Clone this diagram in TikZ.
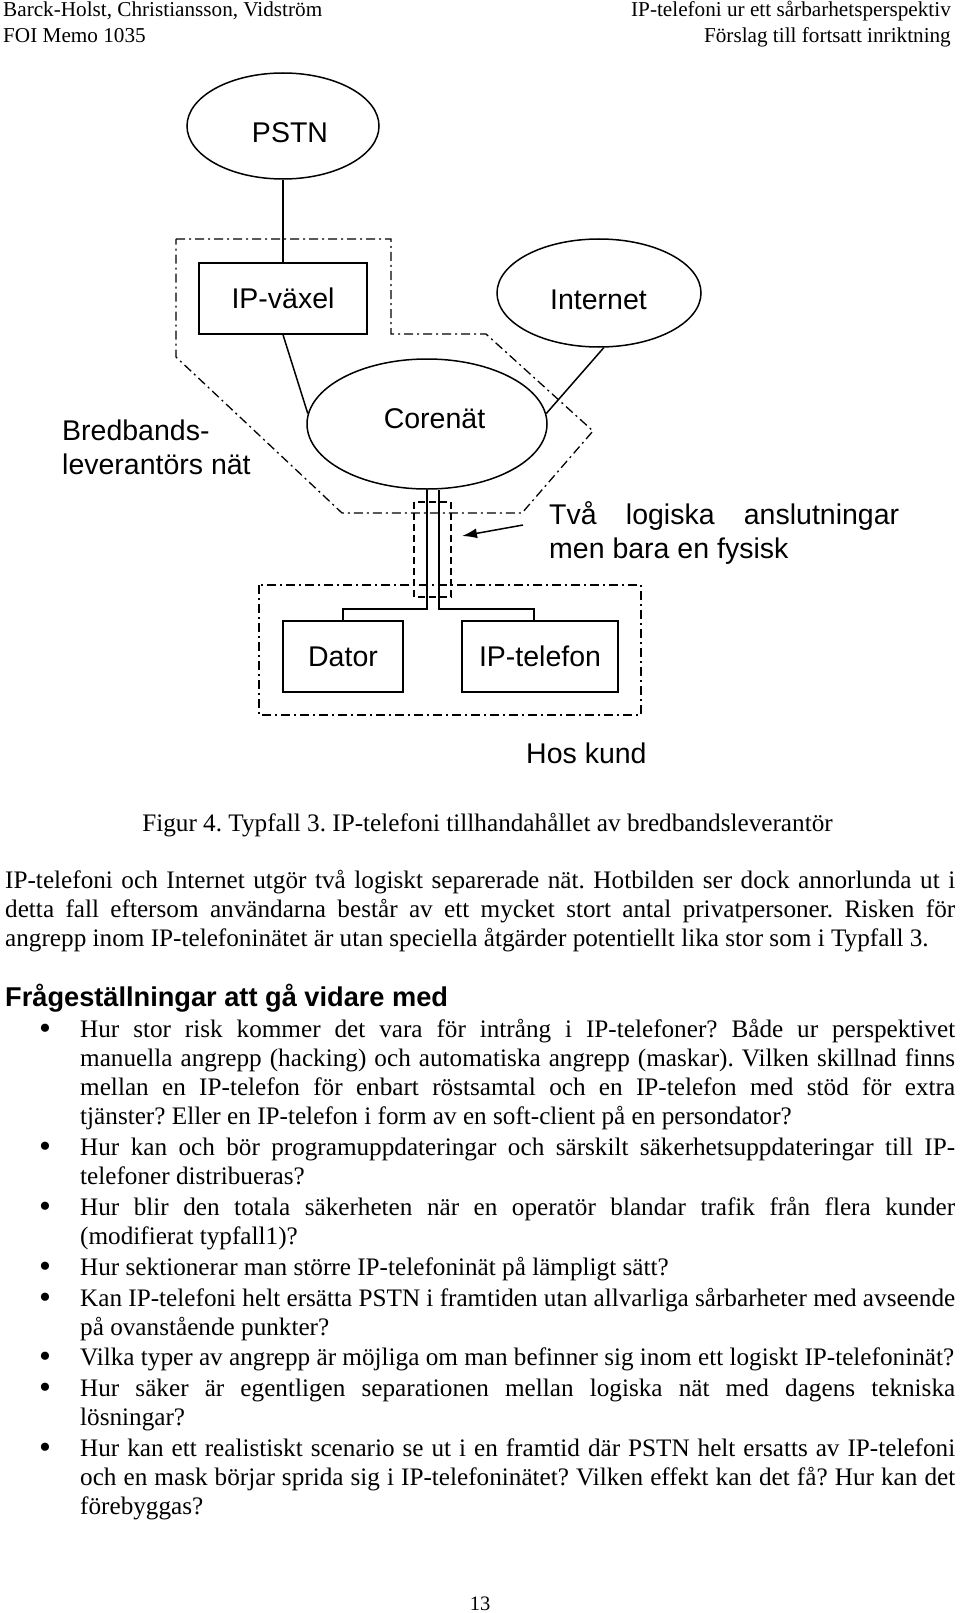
\documentclass[tikz,border=0pt]{standalone}
\usepackage{fontspec}
\setmainfont{Liberation Serif}
\setsansfont{Liberation Sans}
\usetikzlibrary{shapes.geometric,arrows.meta,positioning}
\frenchspacing

\newlength\fullw \setlength\fullw{950pt}
\newlength\itemw \setlength\itemw{875pt}
\newcommand\jfull[1]{\leavevmode\hbox to\fullw{#1}}
\newcommand\jitem[1]{\leavevmode\hbox to\itemw{#1}}

\tikzset{
  every node/.append style={execute at begin node={\spaceskip=0pt\xspaceskip=0pt}},
  net/.style={ellipse, draw, line width=1.5pt, inner sep=0pt},
  box/.style={rectangle, draw, line width=1.5pt, inner sep=0pt, minimum height=71pt,
    font=\sffamily\fontsize{28.5}{34}\selectfont},
  fig/.style={inner sep=0pt, font=\sffamily\fontsize{28.5}{34}\selectfont},
  wire/.style={line width=1.5pt},
  zone/.style={line width=1.3pt, dash pattern=on 9pt off 4pt on 2pt off 4pt},
  phys/.style={line width=1.3pt, dash pattern=on 7pt off 4pt},
  body/.style={inner sep=0pt, font=\fontsize{25.2}{29.2}\selectfont},
  head/.style={inner sep=0pt, font=\fontsize{21.2}{26}\selectfont},
}

\begin{document}
\begin{tikzpicture}[x=1pt, y=-1pt]
\fill[white] (0,0) rectangle (960,1613);

% sidhuvud
\node[head, anchor=base west, text width=400pt, align=left] (hv) at (3,17)
  {Barck-Holst, Christiansson, Vidström\\FOI Memo 1035};
\node[head, anchor=base east] (hh1) at (951,17) {IP-telefoni ur ett sårbarhetsperspektiv};
\node[head, anchor=base east] (hh2) at (951,43) {Förslag till fortsatt inriktning};

% figur
\node[net, minimum width=192pt, minimum height=106pt] (pstn) at (283,126) {};
\node[fig] (pstn-t) at (290,133) {PSTN};
\node[box, minimum width=168pt] (ipv) at (283,298.5) {IP-växel};
\node[net, minimum width=204pt, minimum height=108pt] (inet) at (599,293) {};
\node[fig] (inet-t) at (598.5,300) {Internet};
\node[net, minimum width=240pt, minimum height=130pt] (core) at (427,424) {};
\node[fig] (core-t) at (434.5,419) {Corenät};
\node[box, minimum width=120pt] (dator) at (343,656.5) {Dator};
\node[box, minimum width=156pt] (tel) at (540,656.5) {IP-telefon};

\node[fig, anchor=base west, text width=220pt, align=left] (bred) at (62,440)
  {Bredbands-\\leverantörs nät};
\node[fig, anchor=base west, text width=360pt, align=left] (tva) at (549,524)
  {\leavevmode\hbox to 350pt{Två logiska anslutningar}\\men bara en fysisk};
\node[fig, anchor=base west] (kund) at (526,763) {Hos kund};

\draw[wire] (pstn) -- (ipv);
\draw[wire] (ipv.south) -- (core.175);
\draw[wire] (inet.-85) -- (core.5);
\draw[wire] (core.south) -- ++(0,119) -| (dator.north);
\draw[wire] ([xshift=12pt]core.south) -- ++(0,119) -| ([xshift=-6pt]tel.north);

\draw[zone] (176,239) -- (391,239) -- (391,334) -- (486,334) -- (593,431)
  -- (522,513) -- (342,513) -- (176,357) -- cycle;
\draw[zone] (259,585) rectangle (641,715);
\draw[phys] (414,502) rectangle (451,597);

\coordinate (pil-a) at (523,525);
\coordinate (pil-b) at (462,536);
\draw[wire, -{Latex[length=15pt,width=10pt]}] (pil-a) -- (pil-b);

% text
\node[body, anchor=base] (cap) at (487.5,831)
  {Figur 4. Typfall 3. IP-telefoni tillhandahållet av bredbandsleverantör};
\node[body, anchor=base west, text width=\fullw, align=left] (para) at (5,888)
  {\jfull{IP-telefoni och Internet utgör två logiskt separerade nät. Hotbilden ser dock annorlunda ut i}\\
   \jfull{detta fall eftersom användarna består av ett mycket stort antal privatpersoner. Risken för}\\
   angrepp inom IP-telefoninätet är utan speciella åtgärder potentiellt lika stor som i Typfall 3.};
\node[inner sep=0pt, anchor=base west, font=\sffamily\bfseries\fontsize{27.2}{32}\selectfont] (rub) at (5,1006)
  {Frågeställningar att gå vidare med};

\foreach \n/\y in {1/1037, 2/1155, 3/1215, 4/1275, 5/1306, 6/1365, 7/1396, 8/1456}
  \node[inner sep=0pt, anchor=base, font=\fontsize{34}{34}\selectfont] (dot\n) at (45,\y+2) {•};

\node[body, anchor=base west, text width=\itemw, align=left] (q1) at (80,1037)
  {\jitem{Hur stor risk kommer det vara för intrång i IP-telefoner? Både ur perspektivet}\\
   \jitem{manuella angrepp (hacking) och automatiska angrepp (maskar). Vilken skillnad finns}\\
   \jitem{mellan en IP-telefon för enbart röstsamtal och en IP-telefon med stöd för extra}\\
   tjänster? Eller en IP-telefon i form av en soft-client på en persondator?};
\node[body, anchor=base west, text width=\itemw, align=left] (q2) at (80,1155)
  {\jitem{Hur kan och bör programuppdateringar och särskilt säkerhetsuppdateringar till IP-}\\
   telefoner distribueras?};
\node[body, anchor=base west, text width=\itemw, align=left] (q3) at (80,1215)
  {\jitem{Hur blir den totala säkerheten när en operatör blandar trafik från flera kunder}\\
   (modifierat typfall1)?};
\node[body, anchor=base west] (q4) at (80,1275)
  {Hur sektionerar man större IP-telefoninät på lämpligt sätt?};
\node[body, anchor=base west, text width=\itemw, align=left] (q5) at (80,1306)
  {\jitem{Kan IP-telefoni helt ersätta PSTN i framtiden utan allvarliga sårbarheter med avseende}\\
   på ovanstående punkter?};
\node[body, anchor=base west] (q6) at (80,1365)
  {Vilka typer av angrepp är möjliga om man befinner sig inom ett logiskt IP-telefoninät?};
\node[body, anchor=base west, text width=\itemw, align=left] (q7) at (80,1396)
  {\jitem{Hur säker är egentligen separationen mellan logiska nät med dagens tekniska}\\
   lösningar?};
\node[body, anchor=base west, text width=\itemw, align=left] (q8) at (80,1456)
  {\jitem{Hur kan ett realistiskt scenario se ut i en framtid där PSTN helt ersatts av IP-telefoni}\\
   \jitem{och en mask börjar sprida sig i IP-telefoninätet? Vilken effekt kan det få? Hur kan det}\\
   förebyggas?};

\node[inner sep=0pt, anchor=base, font=\fontsize{20.5}{24}\selectfont] (sida) at (480,1610) {13};
\end{tikzpicture}
\end{document}
